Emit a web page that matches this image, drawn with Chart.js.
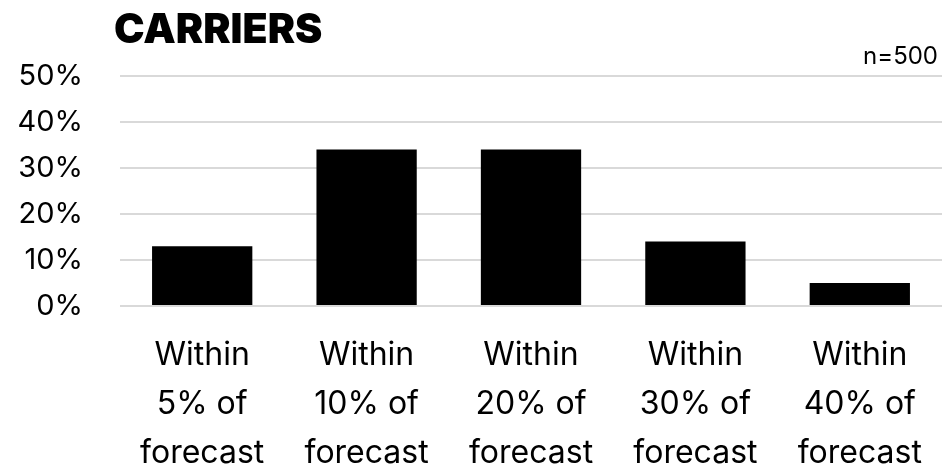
<!DOCTYPE html>
<html>
<head>
<meta charset="utf-8">
<script src="https://cdn.jsdelivr.net/npm/chart.js@4/dist/chart.umd.min.js"></script>
<style>
  html, body { margin: 0; padding: 0; background: #fff; }
  #wrap { width: 942px; height: 471px; }
</style>
</head>
<body>
<div id="wrap"><canvas id="carriers"></canvas></div>
<script>
var categories = [
  ["Within", "5% of", "forecast"],
  ["Within", "10% of", "forecast"],
  ["Within", "20% of", "forecast"],
  ["Within", "30% of", "forecast"],
  ["Within", "40% of", "forecast"]
];
var shares = [0.13, 0.34, 0.34, 0.14, 0.05];
var titleText = "CARRIERS";
var sampleText = "n=500";

var fontFamily = "Inter, 'Noto Sans', sans-serif";

// title on the left and sample size on the right, above the plot
var headerPlugin = {
  id: 'header',
  afterDraw: function(chart) {
    var c = chart.ctx;
    c.save();
    c.fillStyle = '#000';
    c.textBaseline = 'alphabetic';
    c.font = "900 41px " + fontFamily;
    c.textAlign = 'left';
    c.fillText(titleText, 114, 43);
    c.font = "24px " + fontFamily;
    c.textAlign = 'right';
    c.fillText(sampleText, 938, 64);
    c.restore();
  }
};

var ctx = document.getElementById("carriers");

var chartGraph = new Chart(ctx, {
  type: 'bar',
  data: {
    labels: categories,
    datasets: [{
      label: "Carriers",
      data: shares,
      backgroundColor: '#000',
      borderWidth: 0,
      categoryPercentage: 1,
      barPercentage: 0.61
    }]
  },
  options: {
    responsive: true,
    maintainAspectRatio: false,
    animation: false,
    layout: { padding: { top: 76, right: 0, left: 0, bottom: 0 } },
    plugins: {
      legend: { display: false },
      tooltip: { enabled: false }
    },
    scales: {
      x: {
        grid: { display: false, drawTicks: false },
        border: { display: false },
        afterFit: function(scale) {
          scale.height = 471 - 306;
          scale.paddingLeft = 0;
          scale.paddingRight = 0;
        },
        ticks: {
          color: '#000',
          padding: 25,
          maxRotation: 0,
          autoSkip: false,
          font: { family: fontFamily, size: 32, lineHeight: 1.53 }
        }
      },
      y: {
        min: 0,
        max: 0.5,
        afterFit: function(scale) { scale.width = 120; },
        grid: { color: '#d9d9d9', lineWidth: 2, drawTicks: false },
        border: { display: false },
        ticks: {
          stepSize: 0.1,
          color: '#000',
          padding: 37,
          font: { family: fontFamily, size: 29 },
          callback: function(v) { return Math.round(v * 100) + '%'; }
        }
      }
    }
  },
  plugins: [headerPlugin]
});
</script>
</body>
</html>
